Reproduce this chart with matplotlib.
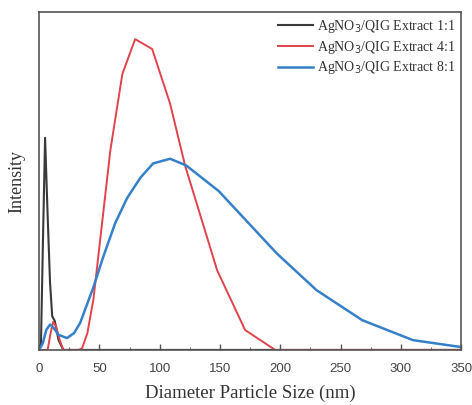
import matplotlib.pyplot as plt
import numpy as np

# size (nm) and intensity (fraction of axis height)
size_11 = [0, 1.5, 3.0, 4.9, 7.0, 9.0, 10.8, 13.0, 16.0, 20.0, 350]
int_11 = [0, 0.02, 0.30, 0.628, 0.40, 0.20, 0.10, 0.085, 0.03, 0, 0]

size_41 = [0, 7, 9.5, 11.6, 14, 17, 20, 33, 35.6, 40, 45, 52, 59, 69, 79.6,
           93.7, 108.6, 121, 147.6, 170.8, 195.7, 350]
int_41 = [0, 0, 0.05, 0.083, 0.07, 0.03, 0, 0, 0.005, 0.05, 0.15, 0.37, 0.59,
          0.817, 0.92, 0.891, 0.729, 0.546, 0.236, 0.059, 0, 0]

size_81 = [0, 3, 6, 9, 12, 16, 23, 29, 34, 45, 53, 63, 73, 84, 94.5, 108.6,
           122, 149, 197, 230, 268, 310, 349]
int_81 = [0, 0.02, 0.06, 0.075, 0.065, 0.045, 0.035, 0.05, 0.08, 0.186, 0.274,
          0.375, 0.45, 0.51, 0.552, 0.566, 0.546, 0.47, 0.286, 0.177, 0.088,
          0.029, 0.009]

labels = ["AgNO$_3$/QIG Extract 1:1", "AgNO$_3$/QIG Extract 4:1",
          "AgNO$_3$/QIG Extract 8:1"]
colors = ["#3a3a3a", "#e0434c", "#3580c8"]

fig = plt.figure(figsize=(4.72, 4.05), dpi=100)
ax = fig.add_axes([0.083, 0.136, 0.894, 0.834])

ax.plot(size_11, int_11, color=colors[0], lw=1.5, label=labels[0])
ax.plot(size_41, int_41, color=colors[1], lw=1.4, label=labels[1])
ax.plot(size_81, int_81, color=colors[2], lw=1.8, label=labels[2])

ax.set_xlim(0, 350)
ax.set_ylim(0, 1.0)
ax.set_xticks(np.arange(0, 351, 50))
ax.set_xticks(np.arange(25, 350, 50), minor=True)
ax.set_yticks([])
ax.tick_params(axis="x", direction="in", length=4.5, width=1, labelsize=9.5,
               color="#555555", labelcolor="#444444", pad=9.5)
ax.tick_params(axis="x", which="minor", direction="in", length=2.5, color="#555555")
for lab in ax.get_xticklabels():
    lab.set_family("Liberation Sans")
for s in ax.spines.values():
    s.set_color("#555555")
    s.set_linewidth(1.2)

ax.set_xlabel("Diameter Particle Size (nm)", family="Liberation Serif",
              fontsize=13.5, color="#333333", labelpad=7)
ax.set_ylabel("Intensity", family="Liberation Serif", fontsize=13,
              color="#333333", labelpad=10)

leg = ax.legend(loc="upper right", prop={"family": "Liberation Serif", "size": 10},
                frameon=False, handlelength=2.5, borderaxespad=0.1,
                labelspacing=0.28, borderpad=0.3, handletextpad=0.3,
                labelcolor="#333333")

fig.savefig("out.png", dpi=100)
